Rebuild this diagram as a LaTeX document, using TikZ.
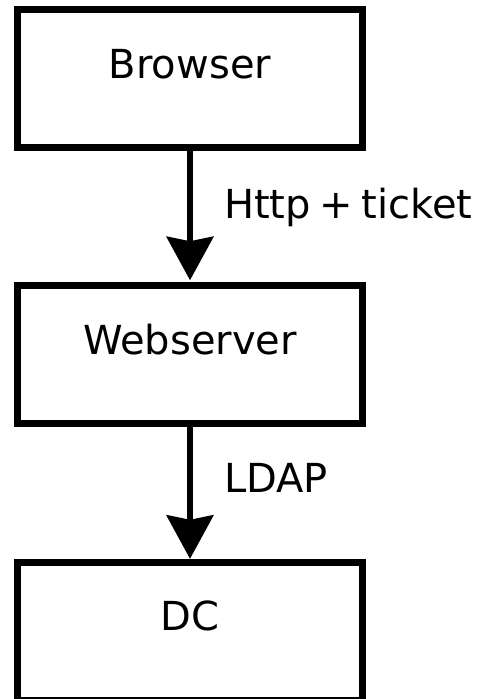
\documentclass[tikz,border=0pt]{standalone}
\usepackage{fontspec}
\setmainfont{DejaVu Sans}
\usetikzlibrary{arrows.meta}
\begin{document}
\begin{tikzpicture}[x=1pt,y=-1pt,
  box/.style={draw=black, line width=7pt, fill=white, rectangle, inner sep=0pt,
    minimum width=345pt, minimum height=138pt,
    font=\fontsize{40}{48}\selectfont, text height=29pt, text depth=30pt},
  flow/.style={line width=6.5pt,
    -{Stealth[length=44pt,width=48pt,inset=5pt,line width=0pt]}},
  tag/.style={anchor=base west, inner sep=0pt, font=\fontsize{40}{48}\selectfont}]
  \useasboundingbox[fill=white] (0,0) rectangle (480,699);
  % the three stations
  \node[box] (browser) at (190,78.5) {Browser};
  \node[box] (web) at (190,354.7) {Webserver};
  \node[box] (dc) at (190,631.25) {DC};
  % requests passed down the chain
  \draw[flow, shorten >=2pt] (browser.south) -- (web.north);
  \draw[flow] (web.south) -- (dc.north);
  \node[tag] (http) at (224,218) {Http\hspace{8.5pt}+\hspace{8.5pt}ticket};
  \node[tag] (ldap) at (224,492.7) {LDAP};
\end{tikzpicture}
\end{document}
